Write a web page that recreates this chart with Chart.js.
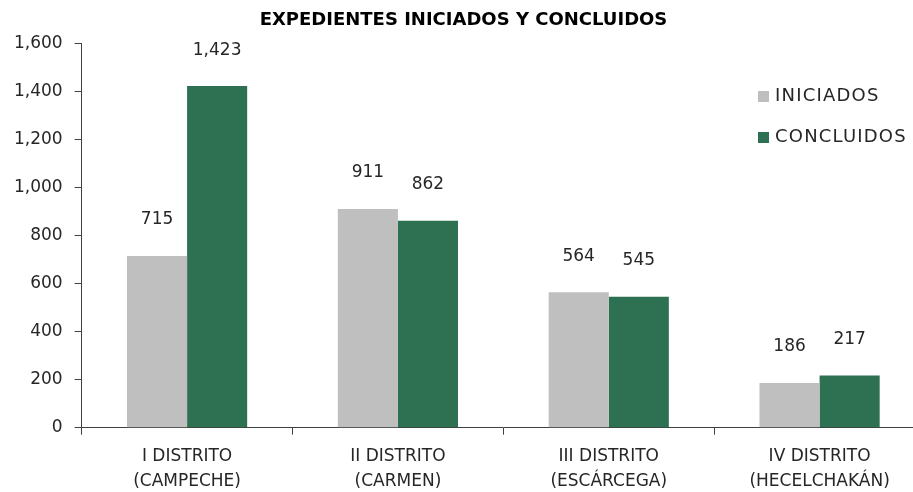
<!DOCTYPE html>
<html>
<head>
<meta charset="utf-8">
<script src="https://cdn.jsdelivr.net/npm/chart.js@4"></script>
<style>
  html, body { margin: 0; padding: 0; background: #fff; overflow: hidden; }
  #wrap { width: 940px; height: 492px; }
</style>
</head>
<body>
<div id="wrap"><canvas id="chart"></canvas></div>
<script>
const categories = [
  ['I DISTRITO', '(CAMPECHE)'],
  ['II DISTRITO', '(CARMEN)'],
  ['III DISTRITO', '(ESCÁRCEGA)'],
  ['IV DISTRITO', '(HECELCHAKÁN)']
];
const iniciados = [715, 911, 564, 186];
const concluidos = [1423, 862, 545, 217];
const seriesNames = ['INICIADOS', 'CONCLUIDOS'];
const seriesColors = ['#BFBFBF', '#2E7152'];

const FONT = "'DejaVu Sans', sans-serif";

// value labels above the bars
const valueLabels = {
  id: 'valueLabels',
  afterDatasetsDraw(chart) {
    const ctx = chart.ctx;
    ctx.save();
    ctx.font = '17px ' + FONT;
    ctx.fillStyle = '#262626';
    ctx.textAlign = 'center';
    ctx.textBaseline = 'middle';
    chart.data.datasets.forEach((ds, di) => {
      chart.getDatasetMeta(di).data.forEach((bar, i) => {
        ctx.fillText(ds.data[i].toLocaleString('en-US'), bar.x, bar.y - 36);
      });
    });
    ctx.restore();
  }
};

// legend drawn inside the plot area, top right
const insideLegend = {
  id: 'insideLegend',
  afterDraw(chart) {
    const ctx = chart.ctx;
    ctx.save();
    ctx.font = '18px ' + FONT;
    ctx.letterSpacing = '1.2px';
    ctx.textBaseline = 'middle';
    ctx.textAlign = 'left';
    chart.data.datasets.forEach((ds, di) => {
      const y = 96 + di * 41;
      ctx.fillStyle = ds.backgroundColor;
      ctx.fillRect(758, y - 5, 11, 11);
      ctx.fillStyle = '#262626';
      ctx.fillText(ds.label, 775, y);
    });
    ctx.restore();
  }
};

new Chart(document.getElementById('chart'), {
  type: 'bar',
  data: {
    labels: categories,
    datasets: [
      { label: seriesNames[0], data: iniciados, backgroundColor: seriesColors[0] },
      { label: seriesNames[1], data: concluidos, backgroundColor: seriesColors[1] }
    ]
  },
  options: {
    responsive: true,
    maintainAspectRatio: false,
    animation: false,
    layout: { padding: { left: 2, right: 15, top: 4, bottom: -12 } },
    datasets: { bar: { barPercentage: 1, categoryPercentage: 0.57 } },
    plugins: {
      legend: { display: false },
      tooltip: { enabled: false },
      title: {
        display: true,
        text: 'EXPEDIENTES INICIADOS Y CONCLUIDOS',
        color: '#000',
        font: { family: FONT, size: 18, weight: 'bold' },
        padding: { top: 6, bottom: 12 }
      }
    },
    scales: {
      x: {
        grid: { drawOnChartArea: false, tickLength: 7, color: '#404040' },
        border: { color: '#404040', width: 1 },
        ticks: { color: '#262626', font: { family: FONT, size: 17, lineHeight: 1.45 }, padding: 10, maxRotation: 0 }
      },
      y: {
        min: 0,
        max: 1600,
        grid: { drawOnChartArea: false, tickLength: 7, color: '#404040' },
        border: { color: '#404040', width: 1 },
        ticks: {
          stepSize: 200,
          color: '#262626',
          font: { family: FONT, size: 17 },
          padding: 12,
          callback: v => v.toLocaleString('en-US')
        }
      }
    }
  },
  plugins: [valueLabels, insideLegend]
});
</script>
</body>
</html>
